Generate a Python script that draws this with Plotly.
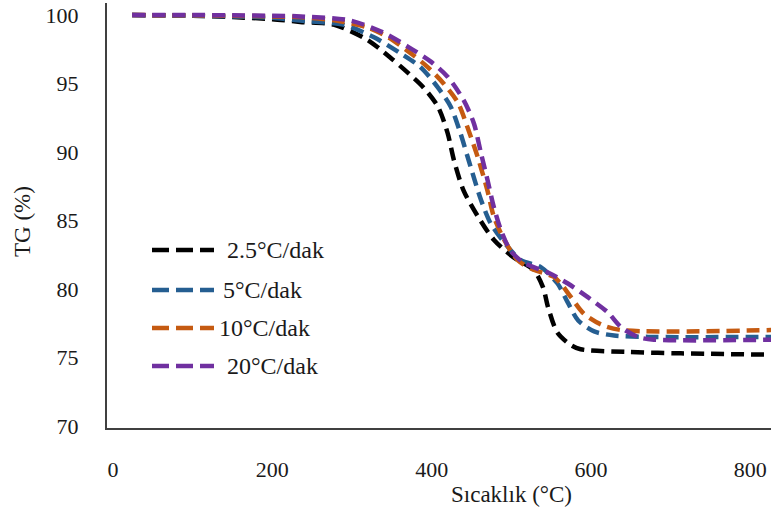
import plotly.graph_objects as go

# ---- data ----
t_25 = [24, 100, 150, 200, 235, 277, 319, 348, 370, 390, 408, 420, 428, 440, 458, 478, 503, 528, 540, 546, 558, 575, 587, 647, 713, 828]
v_25 = [100, 99.95, 99.85, 99.7, 99.5, 99.3, 98.2, 96.9, 95.8, 94.7, 93.3, 91.4, 89.4, 87.2, 85.3, 83.6, 82.3, 81.4, 80.1, 78.7, 76.8, 75.9, 75.6, 75.4, 75.3, 75.2]

t_5 = [24, 100, 150, 200, 235, 289, 327, 361, 386, 408, 424, 436, 449, 462, 474, 491, 512, 537, 558, 571, 584, 604, 629, 672, 828]
v_5 = [100, 99.95, 99.9, 99.8, 99.6, 99.3, 98.4, 97.2, 96.2, 94.7, 93.3, 91.4, 88.9, 86.5, 84.8, 83.4, 82.1, 81.6, 80.4, 79.0, 77.7, 76.9, 76.6, 76.5, 76.5]

t_10 = [24, 100, 150, 200, 235, 280, 319, 345, 374, 395, 415, 433, 445, 458, 470, 478, 491, 508, 528, 553, 562, 575, 591, 613, 638, 828]
v_10 = [100, 99.98, 99.95, 99.9, 99.85, 99.6, 99.1, 98.4, 97.2, 96.2, 95.0, 93.6, 91.8, 89.6, 87.2, 85.3, 83.6, 82.1, 81.4, 80.9, 80.4, 79.4, 78.2, 77.4, 77.0, 77.0]

t_20 = [24, 100, 150, 200, 235, 298, 340, 370, 399, 420, 440, 453, 462, 470, 478, 487, 499, 516, 546, 571, 596, 621, 638, 659, 679, 828]
v_20 = [100, 100, 99.98, 99.95, 99.9, 99.6, 98.7, 97.7, 96.6, 95.5, 93.8, 92.1, 89.9, 88.0, 86.0, 84.3, 82.8, 81.9, 81.2, 80.4, 79.4, 78.3, 77.2, 76.5, 76.3, 76.3]

series_names = ["2.5°C/dak", "5°C/dak", "10°C/dak", "20°C/dak"]
series_t = [t_25, t_5, t_10, t_20]
series_v = [v_25, v_5, v_10, v_20]
colors = ["#000000", "#255E91", "#C55A11", "#7030A0"]

x_ticks = [0, 200, 400, 600, 800]
y_ticks = [70, 75, 80, 85, 90, 95, 100]

# ---- layout geometry (pixels) ----
W, H = 771, 520
L, R, T, B = 107, 0, 3, 92
PW, PH = W - L - R, H - T - B

def px_x(p):
    return (p - L) / PW

def px_y(p):
    return (H - B - p) / PH

FONT = "Liberation Serif, Times New Roman, serif"
TXT = "#1a1a1a"

fig = go.Figure()
for name, t, v, c in zip(series_names, series_t, series_v, colors):
    fig.add_trace(go.Scatter(
        x=t, y=v, mode="lines", name=name, showlegend=False,
        line=dict(color=c, width=4.5, dash="13px,7px", shape="spline", smoothing=0.8),
    ))

# custom legend (longer line samples as in the reference)
leg_rows_y = [250, 290, 328, 366]
leg_text_x = [225, 221, 217, 225]
shapes = []
annotations = []
for name, c, yy, tx in zip(series_names, colors, leg_rows_y, leg_text_x):
    shapes.append(dict(type="line", xref="paper", yref="paper",
                       x0=px_x(152), x1=px_x(214), y0=px_y(yy), y1=px_y(yy),
                       line=dict(color=c, width=4.5, dash="17px,7px")))
    annotations.append(dict(xref="paper", yref="paper", x=px_x(tx), y=px_y(yy),
                            text=name, showarrow=False, xanchor="left", yanchor="middle",
                            font=dict(family=FONT, size=24, color=TXT)))

annotations.append(dict(xref="paper", yref="paper", x=px_x(511), y=px_y(494),
                        text="Sıcaklık (°C)", showarrow=False, xanchor="center", yanchor="middle",
                        font=dict(family=FONT, size=23, color=TXT)))
annotations.append(dict(xref="paper", yref="paper", x=px_x(22), y=px_y(222),
                        text="TG (%)", showarrow=False, textangle=-90, xanchor="center", yanchor="middle",
                        font=dict(family=FONT, size=23, color=TXT)))

fig.update_layout(
    width=W, height=H,
    margin=dict(l=L, r=R, t=T, b=B, autoexpand=False),
    paper_bgcolor="white", plot_bgcolor="white",
    shapes=shapes, annotations=annotations,
    showlegend=False,
    xaxis=dict(range=[-7.5, 826], tickvals=x_ticks, ticktext=[str(v) for v in x_ticks],
               showgrid=False, zeroline=False, showline=True, linecolor="#404040", linewidth=2,
               ticks="", ticklabelstandoff=21,
               tickfont=dict(family=FONT, size=22, color=TXT)),
    yaxis=dict(range=[69.85, 100.88], tickvals=y_ticks, ticktext=[str(v) for v in y_ticks],
               showgrid=False, zeroline=False, showline=True, linecolor="#404040", linewidth=2,
               ticks="", ticklabelstandoff=22,
               tickfont=dict(family=FONT, size=22, color=TXT)),
)

fig.write_html("out.html", config={"displayModeBar": False},
               post_script="document.body.style.margin='0';")
